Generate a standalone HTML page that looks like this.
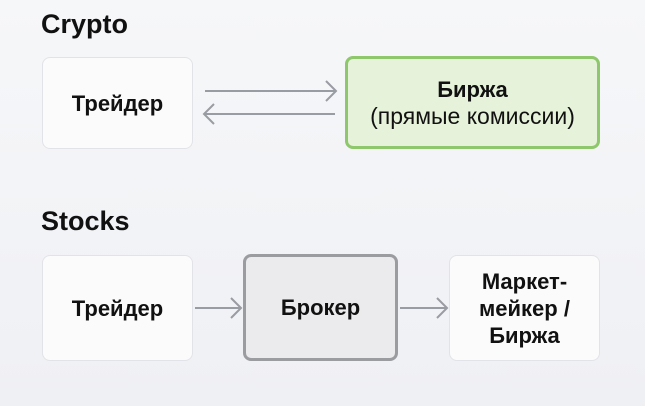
<!DOCTYPE html>
<html><head><meta charset="utf-8"><style>
body{margin:0;width:645px;height:406px;background:linear-gradient(180deg,#f6f7f9,#eff0f4);font-family:"Liberation Sans","Noto Sans CJK SC",sans-serif;position:relative;overflow:hidden;color:#111}
.t{position:absolute;font-weight:bold;font-size:27px;left:41px}
.b{position:absolute;box-sizing:border-box;border-radius:8px;display:flex;align-items:center;justify-content:center;text-align:center;font-size:22px;line-height:27px;font-weight:bold}
.w{background:#fbfbfc;border:1px solid #e2e3e8}
</style></head><body>
<div class="t" style="top:9px">Crypto</div>
<div class="b w" style="left:42px;top:57px;width:151px;height:92px">Трейдер</div>
<div class="b" style="left:345px;top:56px;width:255px;height:93px;background:#e6f2d9;border:3px solid #8ec76c;flex-direction:column"><b>Биржа</b><span style="font-weight:normal;font-size:23px">(прямые комиссии)</span></div>
<div class="t" style="top:206px">Stocks</div>
<div class="b w" style="left:42px;top:255px;width:151px;height:106px">Трейдер</div>
<div class="b" style="left:243px;top:254px;width:155px;height:107px;background:#ebebee;border:3px solid #9b9ca0">Брокер</div>
<div class="b w" style="left:449px;top:255px;width:151px;height:106px">Маркет-<br>мейкер /<br>Биржа</div>
<svg width="645" height="406" style="position:absolute;left:0;top:0" fill="none" stroke="#9a9ca3" stroke-width="2">
<path d="M205 91H335M326 81l10 10-10 10"/>
<path d="M335 114H205M214 104l-10 10 10 10"/>
<path d="M195 308H240M231 298l10 10-10 10"/>
<path d="M400 308H446M437 298l10 10-10 10"/>
</svg>
</body></html>
